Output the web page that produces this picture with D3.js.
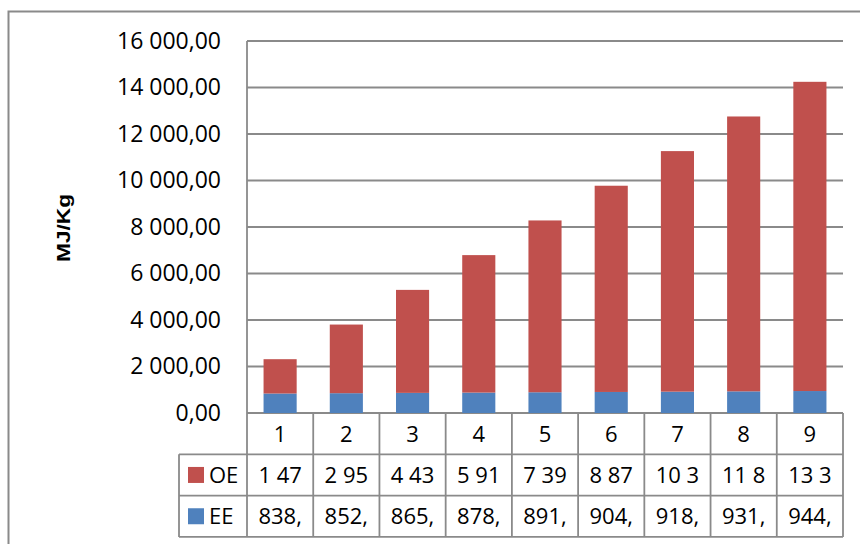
<!DOCTYPE html>
<html>
<head>
<meta charset="utf-8">
<script src="https://cdn.jsdelivr.net/npm/d3@7"></script>
<style>
  html, body { margin: 0; padding: 0; background: #fff; }
  svg { display: block; }
  text { font-family: "Open Sans", "Liberation Sans", sans-serif; fill: #000; }
</style>
</head>
<body>
<svg id="chart" width="860" height="544"></svg>
<script>
// Categories and series (MJ/Kg)
const categories = ["1", "2", "3", "4", "5", "6", "7", "8", "9"];
const eeValues = [838.4, 852.1, 865.3, 878.6, 891.8, 904.9, 918.2, 931.5, 944.7];
const oeValues = [1476, 2952, 4430, 5912, 7390, 8870, 10346, 11822, 13300];
const seriesNames = ["OE", "EE"];
const yTicks = [0, 2000, 4000, 6000, 8000, 10000, 12000, 14000, 16000];
const yTitle = "MJ/Kg";

const colors = { OE: "#C0504D", EE: "#4F81BD" };
const gridColor = "#8a8a8a";

const svg = d3.select("#chart");

// Outer chart frame (continues past the right and bottom edges)
svg.append("rect")
  .attr("x", 8.5).attr("y", 11.5)
  .attr("width", 1000).attr("height", 1000)
  .attr("fill", "none").attr("stroke", gridColor).attr("stroke-width", 2);

const plot = { left: 247, right: 843, top: 41, bottom: 413 };

const x = d3.scaleBand()
  .domain(categories)
  .range([plot.left, plot.right])
  .paddingInner(0.5)
  .paddingOuter(0.25);
const step = x.step();

const y = d3.scaleLinear().domain([0, 16000]).range([plot.bottom, plot.top]);

const locale = d3.formatLocale({ decimal: ",", thousands: " ", grouping: [3], currency: ["", ""] });
const fmt = locale.format(",.2f");

// Horizontal gridlines
svg.append("g").selectAll("line")
  .data(yTicks)
  .join("line")
  .attr("x1", plot.left).attr("x2", plot.right)
  .attr("y1", d => y(d)).attr("y2", d => y(d))
  .attr("stroke", gridColor).attr("stroke-width", 1.8);

// Y axis labels
const yAxis = d3.axisLeft(y).tickValues(yTicks).tickFormat(fmt).tickSize(0).tickPadding(26);
const yg = svg.append("g").attr("transform", `translate(${plot.left},0)`).call(yAxis);
yg.select(".domain").remove();
yg.selectAll("text")
  .style("font-family", "'Open Sans', 'Liberation Sans', sans-serif")
  .style("font-size", "23px").attr("fill", "#000");

// Y axis title
svg.append("text")
  .attr("transform", `translate(70,228) rotate(-90)`)
  .attr("text-anchor", "middle")
  .attr("textLength", 68)
  .attr("lengthAdjust", "spacingAndGlyphs")
  .style("font-family", "'Liberation Sans', Arial, sans-serif")
  .style("font-weight", "bold")
  .style("font-size", "19px")
  .text(yTitle);

// Stacked columns
const rows = categories.map((c, i) => ({ cat: c, EE: eeValues[i], OE: oeValues[i] }));
const stack = d3.stack().keys(["EE", "OE"])(rows);

svg.append("g").selectAll("g")
  .data(stack)
  .join("g")
  .attr("fill", d => colors[d.key])
  .selectAll("rect")
  .data(d => d)
  .join("rect")
  .attr("x", d => x(d.data.cat))
  .attr("width", x.bandwidth())
  .attr("y", d => y(d[1]))
  .attr("height", d => y(d[0]) - y(d[1]));

// Data table
const tableTop = plot.bottom;
const rowH = 41.3;
const legendLeft = 179;
const table = svg.append("g");
const lineStyle = sel => sel.attr("stroke", gridColor).attr("stroke-width", 1.8).attr("fill", "none");

// vertical axis line down through the category row
table.append("line").call(lineStyle)
  .attr("x1", plot.left).attr("x2", plot.left)
  .attr("y1", plot.top).attr("y2", tableTop + 3 * rowH);

// horizontal lines of the table
[1, 2, 3].forEach(r => {
  table.append("line").call(lineStyle)
    .attr("x1", legendLeft).attr("x2", plot.right)
    .attr("y1", tableTop + r * rowH).attr("y2", tableTop + r * rowH);
});
// left edge of legend column
table.append("line").call(lineStyle)
  .attr("x1", legendLeft).attr("x2", legendLeft)
  .attr("y1", tableTop + rowH).attr("y2", tableTop + 3 * rowH);

// column dividers
table.selectAll("line.col")
  .data(categories)
  .join("line").attr("class", "col").call(lineStyle)
  .attr("x1", d => x(d) - x.bandwidth() / 2 + step)
  .attr("x2", d => x(d) - x.bandwidth() / 2 + step)
  .attr("y1", tableTop).attr("y2", tableTop + 3 * rowH);

// category labels
table.selectAll("text.cat")
  .data(categories)
  .join("text").attr("class", "cat")
  .attr("x", d => x(d) + x.bandwidth() / 2)
  .attr("y", tableTop + rowH / 2)
  .attr("dy", "0.36em")
  .attr("text-anchor", "middle")
  .style("font-size", "22px")
  .text(d => d);

// legend keys and value cells, truncated to fit the cell like a spreadsheet table
const maxW = 50;
seriesNames.forEach((name, r) => {
  const cy = tableTop + (r + 1) * rowH + rowH / 2;
  table.append("rect")
    .attr("x", 188).attr("y", cy - 8)
    .attr("width", 16).attr("height", 16)
    .attr("fill", colors[name]);
  table.append("text")
    .attr("x", 209).attr("y", cy).attr("dy", "0.36em")
    .style("font-size", "22px")
    .text(name);
  const vals = name === "OE" ? oeValues : eeValues;
  table.selectAll(`text.v${name}`)
    .data(vals)
    .join("text").attr("class", `v${name}`)
    .attr("x", (d, i) => x(categories[i]) + x.bandwidth() / 2)
    .attr("y", cy).attr("dy", "0.36em")
    .attr("text-anchor", "middle")
    .style("font-size", "22px")
    .text(d => fmt(d))
    .each(function () {
      const t = d3.select(this);
      let s = t.text();
      while (this.getComputedTextLength() > maxW && s.length > 1) {
        s = s.slice(0, -1);
        t.text(s);
      }
    });
});
</script>
</body>
</html>
